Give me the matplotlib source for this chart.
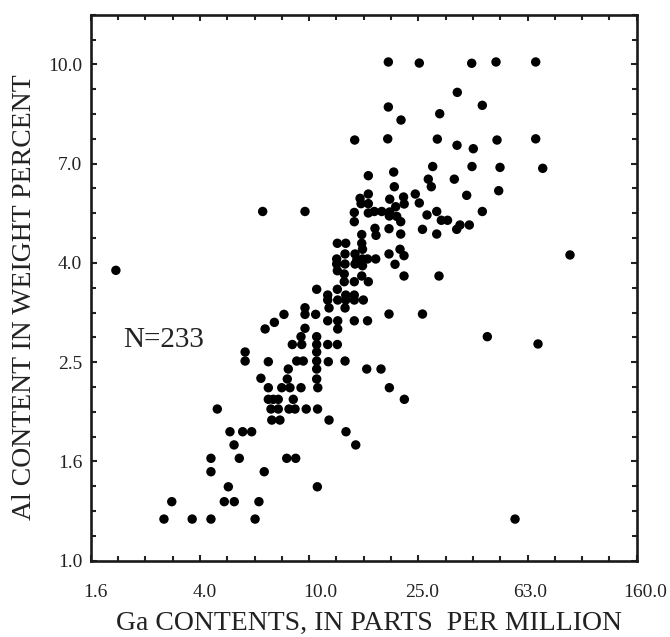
import numpy as np
import matplotlib
matplotlib.use("Agg")
import matplotlib.pyplot as plt
from matplotlib.ticker import FixedLocator, NullFormatter, FixedFormatter
import matplotlib.transforms as mtransforms

# Ga content (ppm) and Al content (weight percent)
ga_ppm = [
    2.94, 3.14, 3.73, 4.37, 4.37, 4.37, 4.89, 5.32, 5.06, 5.31,
    5.55, 5.13, 5.71, 6.16, 6.34, 6.55, 6.85, 8.28, 8.93, 10.72,
    11.83, 13.65, 14.82, 7.30, 7.82, 56.8, 7.25, 7.71, 8.44, 8.88,
    9.76, 10.74, 4.61, 7.09, 7.39, 7.71, 8.75, 22.33, 7.09, 7.94,
    8.51, 9.34, 10.76, 19.68, 6.66, 8.32, 10.66, 8.39, 10.66, 16.26,
    18.34, 7.09, 9.01, 9.52, 10.66, 11.76, 13.54, 5.83, 5.83, 10.66,
    8.68, 9.40, 10.66, 11.70, 12.69, 9.34, 10.66, 44.96, 6.90, 9.66,
    12.73, 7.46, 11.70, 12.73, 14.64, 16.37, 8.09, 9.66, 10.57, 19.62,
    26.02, 9.66, 11.83, 13.54, 11.70, 12.73, 13.62, 14.64, 15.80, 11.70,
    13.62, 14.64, 10.66, 12.69, 13.45, 14.64, 16.48, 13.45, 15.59, 22.27,
    29.91, 12.69, 1.96, 12.62, 13.54, 14.73, 15.69, 20.64, 14.95, 12.62,
    15.69, 16.37, 17.54, 13.54, 14.73, 19.62, 22.27, 21.53, 15.69, 12.69,
    13.62, 15.59, 15.59, 17.58, 21.66, 29.34, 17.43, 19.62, 26.02, 34.73,
    35.70, 38.62, 14.64, 21.66, 30.50, 32.14, 19.68, 20.94, 27.03, 6.76,
    9.66, 14.64, 16.48, 17.33, 18.45, 19.74, 29.34, 43.10, 20.76, 15.50,
    16.48, 22.30, 25.33, 15.37, 19.74, 22.18, 16.48, 24.49, 37.78, 49.49,
    20.52, 28.03, 27.33, 34.03, 16.48, 20.41, 28.36, 39.51, 50.04, 71.74,
    14.69, 19.41, 29.49, 34.82, 39.94, 48.79, 67.61, 21.71, 30.09, 19.51,
    43.10, 34.90, 19.51, 25.33, 39.41, 48.38, 67.61, 90.3, 68.95,
]
al_wt = [
    1.213, 1.315, 1.213, 1.213, 1.511, 1.608, 1.315, 1.315, 1.409, 1.711,
    1.608, 1.819, 1.819, 1.819, 1.213, 1.315, 1.511, 1.608, 1.608, 1.409,
    1.920, 1.819, 1.711, 1.920, 1.920, 1.213, 2.021, 2.021, 2.021, 2.021,
    2.021, 2.021, 2.021, 2.114, 2.114, 2.114, 2.114, 2.114, 2.231, 2.231,
    2.231, 2.231, 2.231, 2.231, 2.331, 2.323, 2.323, 2.433, 2.433, 2.433,
    2.433, 2.517, 2.525, 2.525, 2.525, 2.517, 2.525, 2.525, 2.633, 2.633,
    2.726, 2.726, 2.726, 2.726, 2.726, 2.827, 2.827, 2.827, 2.930, 2.939,
    2.930, 3.021, 3.043, 3.043, 3.043, 3.043, 3.135, 3.135, 3.135, 3.140,
    3.140, 3.233, 3.230, 3.230, 3.351, 3.351, 3.351, 3.351, 3.351, 3.429,
    3.429, 3.429, 3.522, 3.522, 3.648, 3.648, 3.648, 3.781, 3.746, 3.746,
    3.746, 3.839, 3.846, 3.960, 3.960, 3.960, 3.929, 3.955, 4.035, 4.054,
    4.054, 4.054, 4.054, 4.149, 4.149, 4.149, 4.117, 4.241, 4.241, 4.360,
    4.360, 4.360, 4.540, 4.524, 4.551, 4.551, 4.673, 4.665, 4.651, 4.651,
    4.746, 4.746, 4.819, 4.819, 4.851, 4.851, 4.949, 4.940, 4.972, 5.053,
    5.053, 5.030, 5.018, 5.053, 5.053, 5.042, 5.053, 5.053, 5.166, 5.240,
    5.240, 5.232, 5.256, 5.370, 5.350, 5.404, 5.479, 5.479, 5.446, 5.564,
    5.668, 5.668, 5.870, 5.870, 5.966, 6.067, 6.225, 6.225, 6.200, 6.173,
    7.039, 7.078, 7.070, 6.870, 6.761, 7.039, 7.078, 7.723, 7.952, 8.204,
    8.268, 8.781, 10.11, 10.06, 10.05, 10.11, 10.11, 4.13, 2.733,
]

x_tick_labels = ["1.6", "4.0", "10.0", "25.0", "63.0", "160.0"]
y_tick_labels = ["1.0", "1.6", "2.5", "4.0", "7.0", "10.0"]
n_label = "N=233"
x_title = "Ga CONTENTS, IN PARTS  PER MILLION"
y_title = "Al CONTENT IN WEIGHT PERCENT"

W, H, DPI = 670, 637, 100
plt.rcParams["font.family"] = ["Liberation Serif", "DejaVu Serif"]
fig = plt.figure(figsize=(W / DPI, H / DPI), dpi=DPI)
ax = fig.add_axes([90.7 / W, (H - 560.7) / H, 546 / W, 546 / H])

ax.scatter(ga_ppm, al_wt, s=46, color="black", edgecolors="none", zorder=3)

ax.set_xscale("log")
ax.set_yscale("log")
ax.set_xlim(10 ** 0.2, 10 ** 2.2)
ax.set_ylim(1.0, 10 ** 1.1)

xmaj = 10 ** np.arange(0.2, 2.21, 0.4)
xmin = 10 ** np.arange(0.2, 2.21, 0.1)
ymaj = 10 ** np.arange(0.0, 1.01, 0.2)
ymin = 10 ** np.arange(0.0, 1.11, 0.05)

ax.xaxis.set_major_locator(FixedLocator(xmaj))
ax.xaxis.set_major_formatter(FixedFormatter(x_tick_labels))
ax.xaxis.set_minor_locator(FixedLocator(xmin))
ax.xaxis.set_minor_formatter(NullFormatter())
ax.yaxis.set_major_locator(FixedLocator(ymaj))
ax.yaxis.set_major_formatter(FixedFormatter(y_tick_labels))
ax.yaxis.set_minor_locator(FixedLocator(ymin))
ax.yaxis.set_minor_formatter(NullFormatter())

ax.tick_params(which="both", direction="in", top=True, right=True,
               color="#222222", width=1.5)
ax.tick_params(which="major", length=4.5)
ax.tick_params(which="minor", length=3.8)
ax.tick_params(axis="x", which="major", pad=17, labelsize=14, labelcolor="#222222")
ax.tick_params(axis="y", which="major", pad=6, labelsize=14, labelcolor="#222222")

for sp in ax.spines.values():
    sp.set_linewidth(1.9)
    sp.set_color("#1a1a1a")

# small horizontal shifts of the x tick labels as in the reference
x_shift_px = [5, 5, 11, 4, 3, 8]
for lab, dx in zip(ax.get_xticklabels(), x_shift_px):
    lab.set_transform(lab.get_transform() +
                      mtransforms.ScaledTranslation(dx / DPI, 0, fig.dpi_scale_trans))

ax.text(0.059, 0.391, n_label, transform=ax.transAxes, fontsize=21,
        color="#222222", ha="left", va="baseline")

fig.text(368.5 / W, 7 / H, x_title, fontsize=20, color="#222222",
         ha="center", va="baseline")
fig.text(12 / W, (H - 297) / H, y_title, fontsize=20, color="#222222",
         ha="left", va="center", rotation=90)

fig.savefig("out.png", dpi=DPI)
